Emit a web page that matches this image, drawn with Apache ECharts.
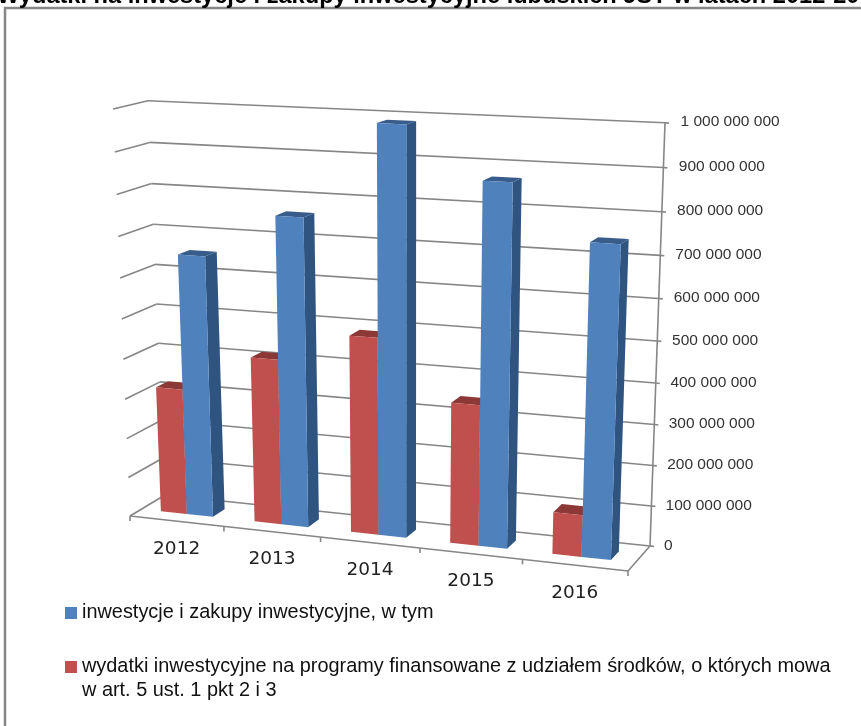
<!DOCTYPE html>
<html><head><meta charset="utf-8">
<style>html,body{margin:0;padding:0;background:#fff}#c{width:861px;height:726px}</style>
<script src="https://cdn.jsdelivr.net/npm/echarts@6/dist/echarts.min.js"></script>
</head><body><div id="c"></div>
<script>
const titleText = 'Wydatki na inwestycje i zakupy inwestycyjne lubuskich JST w latach 2012-2016';
const categories = ['2012','2013','2014','2015','2016'];
const seriesNames = ['inwestycje i zakupy inwestycyjne, w tym',
  'wydatki inwestycyjne na programy finansowane z udziałem środków, o których mowa\nw art. 5 ust. 1 pkt 2 i 3'];
const blueValues = [654000000,762000000,988000000,870000000,745000000];
const redValues = [320000000,415000000,488000000,346000000,103000000];
const yTicks = [0,100000000,200000000,300000000,400000000,500000000,600000000,700000000,800000000,900000000,1000000000];
const yTickLabels = ['0','100 000 000','200 000 000','300 000 000','400 000 000','500 000 000','600 000 000','700 000 000','800 000 000','900 000 000','1 000 000 000'];

// 3D view of the chart box: corners of the floor and the ceiling as seen by the camera
const FL=[130,516],FR=[628,571],BL=[165,495],BR=[650,546];
const TFL=[113,109],TFR=[643,134],TBL=[148,100.7],TBR=[665,122.7];
const warpV=v=>v*0.9391/(1-0.0609*v);
const warpS=s=>s*0.93/(1-0.07*s);
const lerp=(a,b,t)=>[a[0]+(b[0]-a[0])*t,a[1]+(b[1]-a[1])*t];
function project(s,v,d){
  const f=warpS(s);
  const bot=lerp(lerp(FL,FR,f),lerp(BL,BR,f),d);
  const top=lerp(lerp(TFL,TFR,f),lerp(TBL,TBR,f),d);
  return lerp(bot,top,warpV(v));
}
const LINE='#868686';
const seg=(a,b,w)=>({type:'line',shape:{x1:a[0],y1:a[1],x2:b[0],y2:b[1]},style:{stroke:LINE,lineWidth:w||1.6},silent:true});
function nrm(api,params,cat,val){
  const p=api.coord([cat,val]),c=params.coordSys;
  return [(p[0]-c.x)/c.width,(c.y+c.height-p[1])/c.height];
}
function barItem(side,front,sideCol,topCol){
  return function(params,api){
    const cat=api.value(0),val=api.value(1);
    const n=nrm(api,params,cat,val);
    const hw=api.size([1,0])[0]*0.28/params.coordSys.width;
    const c=n[0]-0.002,v=n[1];
    const s0=side<0?c-hw:c,s1=side<0?c:c+hw,d0=0.33,d1=0.68;
    const poly=(pts,col)=>({type:'polygon',shape:{points:pts},style:{fill:col}});
    return {type:'group',children:[
      poly([project(s1,0,d0),project(s1,0,d1),project(s1,v,d1),project(s1,v,d0)],sideCol),
      poly([project(s0,v,d0),project(s1,v,d0),project(s1,v,d1),project(s0,v,d1)],topCol),
      poly([project(s0,0,d0),project(s1,0,d0),project(s1,v,d0),project(s0,v,d0)],front)
    ]};
  };
}
function gridItem(params,api){
  const idx=api.value(0),val=yTicks[idx];
  const v=nrm(api,params,0,val)[1];
  const a=project(0,v,0),b=project(0,v,1),r=project(1,v,1);
  const ch=[seg(b,r)];
  if(idx>0) ch.push(seg(a,b));
  ch.push(seg(r,[r[0]+4,r[1]+0.4]));
  ch.push({type:'text',style:{text:yTickLabels[idx],x:r[0]+14+1.5*v,y:r[1]-0.5,fill:'#333',
    font:'15.5px "Liberation Sans"',align:'left',verticalAlign:'middle'}});
  if(idx===0){
    ch.push(seg(project(1,0,0),project(1,0,1)));
    ch.push(seg(project(0,0,0),project(0,0,1)));
    ch.push(seg(project(0,0,0),project(1,0,0)));
    ch.push(seg(project(1,0,1),project(1,1,1)));
    const t0=project(0,0,0);ch.push(seg(t0,[t0[0],t0[1]+5]));
  }
  return {type:'group',children:ch};
}
function catItem(params,api){
  const i=api.value(0);
  const s=nrm(api,params,i,0)[0];
  const m=project(s,0,0);
  const t=project(s+api.size([1,0])[0]*0.5/params.coordSys.width,0,0);
  return {type:'group',children:[
    seg(t,[t[0],t[1]+5]),
    {type:'text',style:{text:categories[i],x:m[0],y:m[1]+28,fill:'#222',
      font:'18.5px "DejaVu Sans"',align:'center',verticalAlign:'middle'}}
  ]};
}
const chart=echarts.init(document.getElementById('c'),null,{renderer:'canvas'});
chart.setOption({
  animation:false,
  backgroundColor:'#fff',
  title:{text:titleText,left:-3,top:-16,padding:0,textStyle:{fontFamily:'Liberation Sans',fontSize:23.6,fontWeight:'bold',color:'#000'}},
  graphic:[{type:'rect',z:-10,silent:true,shape:{x:5,y:8,width:900,height:800},style:{fill:'none',stroke:'#868686',lineWidth:2.5}}],
  grid:{left:130,top:122,width:498,height:424},
  xAxis:{type:'category',data:categories,show:false},
  yAxis:{type:'value',min:0,max:1000000000,interval:100000000,show:false},
  legend:{orient:'vertical',left:60,top:596,height:200,itemGap:6,itemTextGap:4,icon:'rect',itemWidth:12,itemHeight:12,itemStyle:{borderWidth:0},
    data:seriesNames,selectedMode:false,
    formatter:n=>n.indexOf('\n')>=0?'\n'+n:n,
    textStyle:{fontFamily:'Liberation Sans',fontSize:19.9,color:'#111',lineHeight:24}},
  series:[
    {type:'custom',name:'siatka',coordinateSystem:'cartesian2d',z:1,silent:true,data:yTicks.map((t,i)=>[i]),encode:{x:-1,y:-1},renderItem:gridItem},
    {type:'custom',name:'kategorie',coordinateSystem:'cartesian2d',z:1,silent:true,data:categories.map((t,i)=>[i]),encode:{x:0,y:-1},renderItem:catItem},
    {type:'custom',name:seriesNames[1],coordinateSystem:'cartesian2d',z:2,itemStyle:{color:'#C0504D'},
      data:redValues.map((v,i)=>[i,v]),encode:{x:0,y:1},renderItem:barItem(-1,'#C0504D','#8C3836','#8C3836')},
    {type:'custom',name:seriesNames[0],coordinateSystem:'cartesian2d',z:3,itemStyle:{color:'#4F81BD'},
      data:blueValues.map((v,i)=>[i,v]),encode:{x:0,y:1},renderItem:barItem(1,'#4F81BD','#2F5480','#385D8A')}
  ]
});
</script></body></html>
